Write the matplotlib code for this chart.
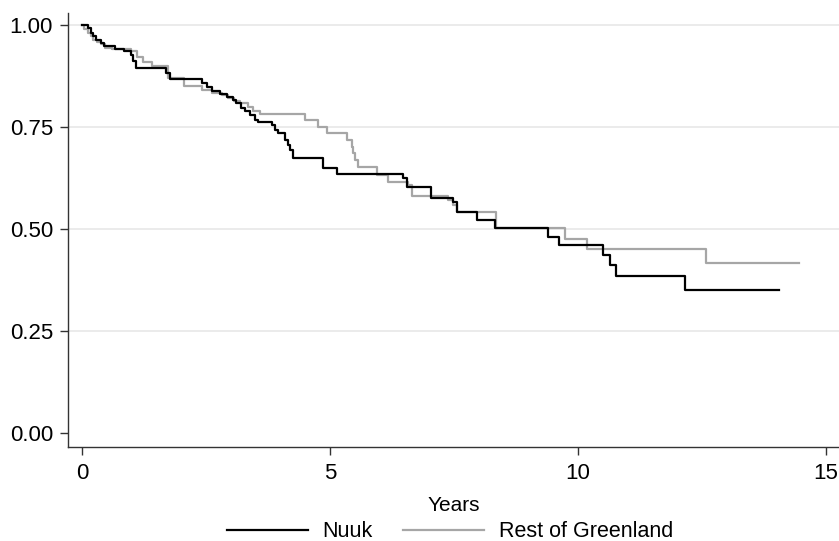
import numpy as np
import matplotlib
matplotlib.use("Agg")
import matplotlib.pyplot as plt

# Kaplan-Meier estimates (time in years, survival after the drop)
nuuk_t = [0.0, 0.12, 0.17, 0.22, 0.28, 0.38, 0.44, 0.65, 0.85, 0.99, 1.02, 1.09,
          1.69, 1.76, 2.41, 2.51, 2.61, 2.78, 2.91, 3.04, 3.11, 3.21, 3.28, 3.38,
          3.48, 3.55, 3.82, 3.89, 3.95, 4.09, 4.15, 4.19, 4.25, 4.86, 5.13, 6.47,
          6.54, 7.04, 7.48, 7.55, 7.95, 8.32, 9.40, 9.61, 10.50, 10.64, 10.77,
          12.15, 14.05]
nuuk_s = [1.0, 0.993, 0.980, 0.972, 0.964, 0.956, 0.948, 0.942, 0.936, 0.927,
          0.911, 0.895, 0.882, 0.868, 0.857, 0.849, 0.837, 0.831, 0.824, 0.816,
          0.808, 0.796, 0.788, 0.780, 0.767, 0.763, 0.755, 0.743, 0.735, 0.718,
          0.706, 0.694, 0.673, 0.649, 0.634, 0.624, 0.604, 0.575, 0.567, 0.543,
          0.521, 0.502, 0.481, 0.461, 0.437, 0.412, 0.384, 0.351, 0.351]

rest_t = [0.0, 0.04, 0.12, 0.17, 0.22, 0.30, 0.37, 0.45, 0.60, 0.98, 1.10, 1.23,
          1.40, 1.72, 2.06, 2.41, 2.61, 2.81, 2.94, 3.05, 3.18, 3.35, 3.45, 3.58,
          4.49, 4.76, 4.93, 5.33, 5.43, 5.46, 5.50, 5.56, 5.94, 6.17, 6.57, 6.64,
          7.38, 7.48, 7.55, 8.35, 9.73, 10.18, 12.57, 14.46]
rest_s = [1.0, 0.990, 0.980, 0.972, 0.964, 0.958, 0.952, 0.944, 0.940, 0.935,
          0.922, 0.910, 0.898, 0.870, 0.850, 0.841, 0.833, 0.827, 0.820, 0.814,
          0.808, 0.798, 0.790, 0.782, 0.767, 0.749, 0.735, 0.718, 0.702, 0.686,
          0.669, 0.653, 0.633, 0.616, 0.608, 0.581, 0.571, 0.559, 0.543, 0.502,
          0.475, 0.451, 0.418, 0.418]

x_ticks = [0, 5, 10, 15]
y_ticks = [0.0, 0.25, 0.5, 0.75, 1.0]
y_ticklabels = ["0.00", "0.25", "0.50", "0.75", "1.00"]


def main():
    plt.rcParams['font.family'] = ['Liberation Sans', 'DejaVu Sans']
    fig = plt.figure(figsize=(8.39, 5.41), dpi=100)
    ax = fig.add_axes([0.0814, 0.1743, 0.9186, 0.8017])

    for y in y_ticks[1:]:
        ax.axhline(y, color="#e8e8e8", lw=1.2, zorder=0)

    ax.step(rest_t, rest_s, where="post", color="#a6a6a6", lw=1.6, label="Rest of Greenland")
    ax.step(nuuk_t, nuuk_s, where="post", color="black", lw=1.6, label="Nuuk")

    ax.set_xlim(-0.282, 15.26)
    ax.set_ylim(-0.0328, 1.029)
    ax.set_xticks(x_ticks)
    ax.set_yticks(y_ticks)
    ax.set_yticklabels(y_ticklabels)
    ax.tick_params(labelsize=16, length=6, width=1, color="#333333", direction="out")
    ax.tick_params(axis="x", pad=6)
    ax.tick_params(axis="y", pad=5)
    ax.spines["top"].set_visible(False)
    ax.spines["right"].set_visible(False)
    for s in ["left", "bottom"]:
        ax.spines[s].set_color("#333333")
        ax.spines[s].set_linewidth(1.0)
    fig.text(453.5 / 839, 1 - 510.7 / 541, "Years", fontsize=15, ha="center", va="baseline")

    h, l = ax.get_legend_handles_labels()
    fig.legend(h[::-1], l[::-1], loc="center", bbox_to_anchor=(450 / 839, 1 - 531.7 / 541),
               ncol=2, frameon=False, fontsize=15.5, handlelength=3.77,
               handletextpad=0.68, columnspacing=1.4, borderpad=0)

    fig.savefig("out.png", dpi=100)


if __name__ == "__main__":
    main()
